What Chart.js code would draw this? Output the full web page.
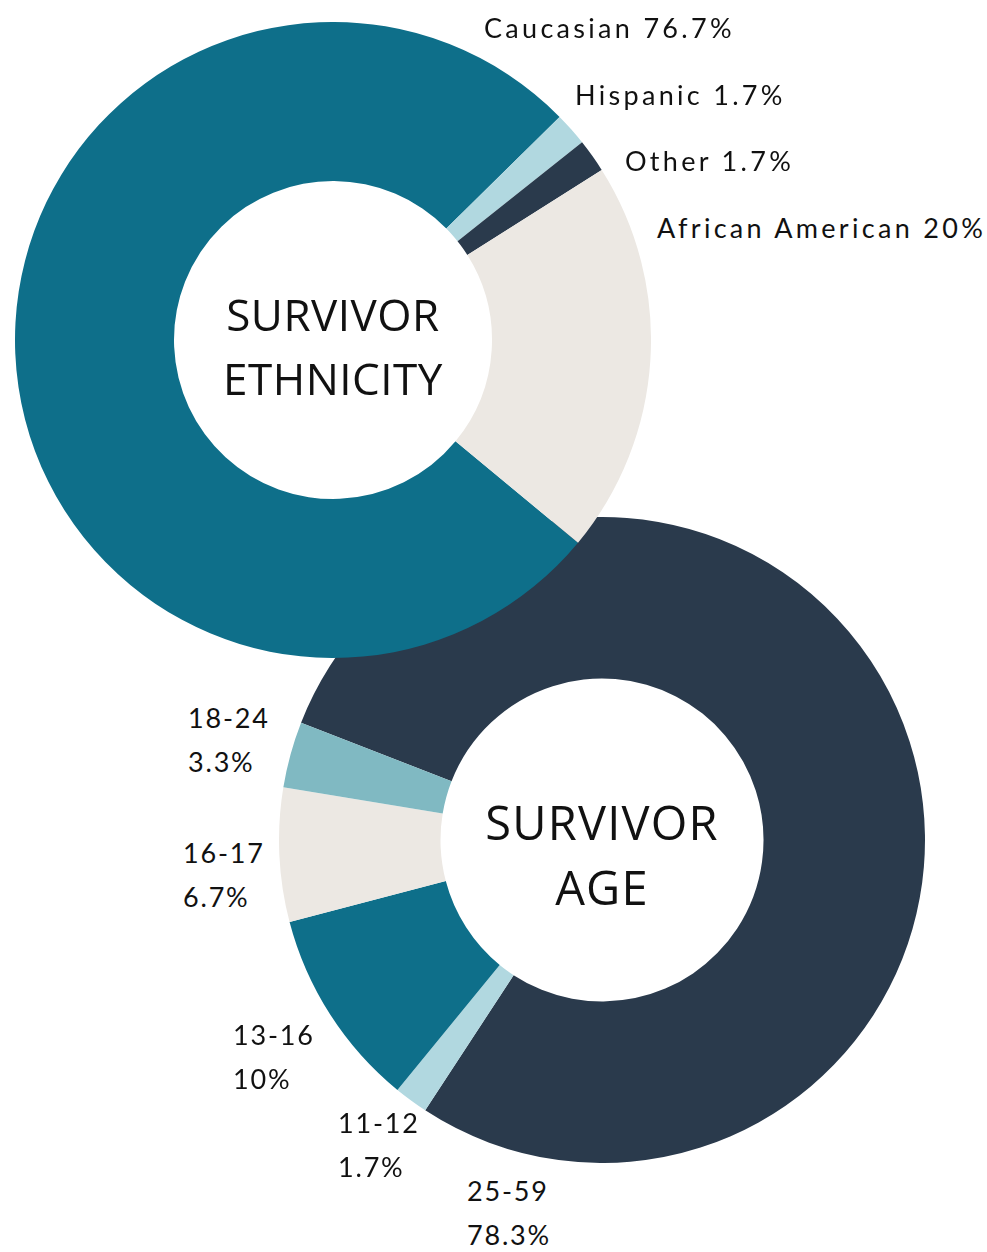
<!DOCTYPE html>
<html>
<head>
<meta charset="utf-8">
<script src="https://cdn.jsdelivr.net/npm/chart.js@4.4.0/dist/chart.umd.min.js"></script>
<style>
  body { margin: 0; background: #fff; }
  #wrap { position: relative; width: 987px; height: 1252px; overflow: hidden; }
  canvas { position: absolute; }
  #ethChart { left: 15px; top: 22px; z-index: 2; }
  #ageChart { left: 279px; top: 517px; z-index: 1; }
  .lbl {
    position: absolute; z-index: 3; white-space: nowrap;
    font-family: Lato, sans-serif; font-size: 27px; letter-spacing: 3.3px;
    color: #111; transform: translateY(-50%); line-height: 1;
  }
  .age { font-size: 27px; letter-spacing: 1.8px; line-height: 44px; transform: none; }
  .center {
    position: absolute; z-index: 3; text-align: center; transform: translate(-50%, -50%);
    font-family: "Open Sans", sans-serif; font-size: 44px; letter-spacing: 0.5px;
    line-height: 64px; color: #111;
  }
  .center.big { font-size: 47px; letter-spacing: 1.2px; line-height: 65px; }
</style>
</head>
<body>
<div id="wrap">
  <canvas id="ethChart" width="636" height="636"></canvas>
  <canvas id="ageChart" width="646" height="646"></canvas>
</div>
<script>
const ethnicityLabels = ["Caucasian", "Hispanic", "Other", "African American"];
const ethnicityValues = [76.7, 1.7, 1.7, 20];
const ethnicityColors = ["#0e6f8a", "#b1d8e0", "#2a3a4c", "#ece8e3"];

const ageLabels = ["25-59", "11-12", "13-16", "16-17", "18-24"];
const ageValues = [78.3, 1.7, 10, 6.7, 3.3];
const ageColors = ["#2a3a4c", "#b1d8e0", "#0e6f8a", "#ece8e3", "#80b9c2"];

// where each label sits on the page (left, middle y of first line)
const ethnicityLabelPos = [[484, 27], [575, 94], [625, 160], [657, 227]];
const ageLabelPos = [[467, 1191], [338, 1123], [233, 1035], [183, 853], [188, 718]];

function makeDoughnut(id, labels, values, colors, rotation) {
  return new Chart(document.getElementById(id), {
    type: "doughnut",
    data: {
      labels: labels,
      datasets: [{
        data: values,
        backgroundColor: colors,
        borderWidth: 0
      }]
    },
    options: {
      responsive: false,
      animation: false,
      cutout: "50%",
      rotation: rotation,
      plugins: {
        legend: { display: false },
        tooltip: { enabled: false }
      }
    }
  });
}

makeDoughnut("ethChart", ethnicityLabels, ethnicityValues, ethnicityColors, 129.6);
makeDoughnut("ageChart", ageLabels, ageValues, ageColors, 291.3);

const wrap = document.getElementById("wrap");

ethnicityLabels.forEach((name, i) => {
  const d = document.createElement("div");
  d.className = "lbl";
  d.style.left = ethnicityLabelPos[i][0] + "px";
  d.style.top = ethnicityLabelPos[i][1] + "px";
  d.textContent = name + " " + ethnicityValues[i] + "%";
  wrap.appendChild(d);
});

ageLabels.forEach((name, i) => {
  const d = document.createElement("div");
  d.className = "lbl age";
  d.style.left = ageLabelPos[i][0] + "px";
  d.style.top = (ageLabelPos[i][1] - 22) + "px";
  d.innerHTML = name + "<br>" + ageValues[i] + "%";
  wrap.appendChild(d);
});

function centerText(x, y, html, cls) {
  const d = document.createElement("div");
  d.className = "center " + (cls || "");
  d.style.left = x + "px";
  d.style.top = y + "px";
  d.innerHTML = html;
  wrap.appendChild(d);
}

centerText(333, 346, "SURVIVOR<br>ETHNICITY");
centerText(602, 855, "SURVIVOR<br>AGE", "big");
</script>
</body>
</html>
